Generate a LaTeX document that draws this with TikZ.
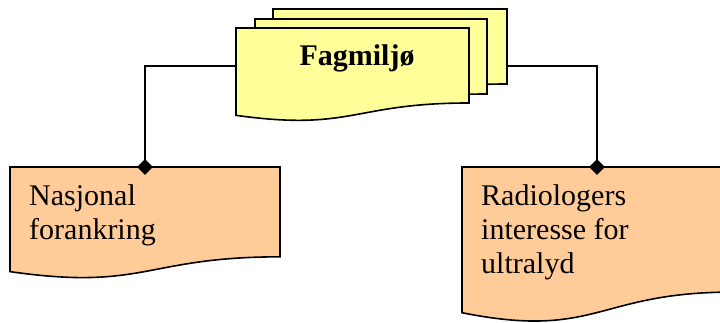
\documentclass[tikz,border=0pt]{standalone}
\usepackage{fontspec}
\setmainfont{Liberation Serif}
\usetikzlibrary{shapes.geometric}
\definecolor{docyellow}{HTML}{FFFF99}
\definecolor{docorange}{HTML}{FFCC99}
\tikzset{
  docbox/.style={draw=black, line width=1.6pt, line join=miter},
  yellowdoc/.style={docbox, fill=docyellow},
  orangedoc/.style={docbox, fill=docorange},
  link/.style={draw=black, line width=1.3pt},
  joint/.style={diamond, fill=black, draw=none, inner sep=0pt, minimum width=16pt, minimum height=16pt},
  boxtext/.style={font=\fontsize{30}{34}\selectfont, inner sep=0pt, align=left, anchor=base west},
}
% style, x, y, width, height  (Office "document" shape)
\newcommand\mydocshape[5]{%
  \path[#1] (#2,#3) -- ({#2+#4},#3) -- ({#2+#4},{#3+0.802*#5})
    .. controls ({#2+0.5*#4},{#3+0.802*#5}) and ({#2+0.5*#4},{#3+1.1075*#5})
    .. (#2,{#3+0.934*#5}) -- cycle;}
\begin{document}
\begin{tikzpicture}[x=1pt, y=-1pt]
  \useasboundingbox (0,0) rectangle (720,322);
  \clip (0,0) rectangle (720,322);
  % anchor points
  \coordinate (frontW) at (236,66);
  \coordinate (backE) at (507,66);
  \coordinate (leftTop) at (145,167);
  \coordinate (rightTop) at (597,167);
  % connectors
  \draw[link] (frontW) -| (leftTop);
  \draw[link] (backE) -| (rightTop);
  % stacked documents
  \mydocshape{yellowdoc}{273}{9}{234}{93.5}
  \mydocshape{yellowdoc}{255}{19}{232}{93.5}
  \mydocshape{yellowdoc}{236}{28}{233}{93.5}
  \node[font=\fontsize{30}{34}\selectfont\bfseries, inner sep=0pt, anchor=base] (fag) at (357,65) {Fagmiljø};
  % lower documents
  \mydocshape{orangedoc}{10}{167}{270}{112}
  \mydocshape{orangedoc}{462}{167}{270}{156}
  \node[boxtext] (nasjonal) at (29,239) {Nasjonal\\forankring};
  \node[boxtext] (radio) at (481,273) {Radiologers\\interesse for\\ultralyd};
  % joints
  \node[joint] (jL) at (leftTop) {};
  \node[joint] (jR) at (rightTop) {};
\end{tikzpicture}
\end{document}
